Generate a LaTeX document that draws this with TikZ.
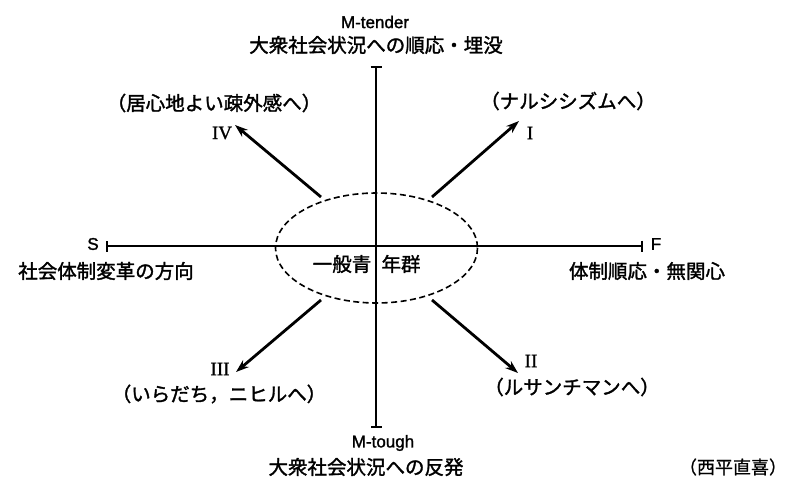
\documentclass[tikz,border=0pt]{standalone}
\usepackage{fontspec}
\setmainfont{Liberation Serif}
\newfontfamily\jp[FakeBold=1.6]{Noto Sans CJK JP}
\newfontfamily\jpa[FakeBold=0.8]{Noto Sans CJK JP}
\newfontfamily\lsans[FakeBold=1.5]{Liberation Sans}
\newfontfamily\rserif[FakeBold=1.2]{Liberation Serif}
\usetikzlibrary{arrows.meta}
\begin{document}
\begin{tikzpicture}[x=1pt,y=-1pt,
 jtext/.style={font=\jp\fontsize{19.5}{22}\selectfont, inner sep=0pt, anchor=center},
 ltext/.style={font=\lsans\fontsize{17}{19}\selectfont, inner sep=0pt},
 rom/.style={font=\rserif\fontsize{19}{20}\selectfont, inner sep=0pt},
 axisline/.style={line width=1.8pt, {Bar[width=11pt,line width=1.8pt]}-{Bar[width=11pt,line width=1.8pt]}},
 dirarrow/.style={line width=2.8pt, -{Stealth[length=13pt,width=9pt]}},
 grpline/.style={dash pattern=on 6pt off 3.5pt, line width=1.6pt},
]
\useasboundingbox (0,0) rectangle (787,479);
% axes
\coordinate (top) at (376,66);
\coordinate (bot) at (376,428);
\coordinate (left) at (106,246);
\coordinate (right) at (643,246);
\draw[axisline] (top) -- (bot);
\draw[axisline] (left) -- (right);
% central group
\draw[grpline] (376.5,248) ellipse [x radius=101, y radius=55];
% arrows
\coordinate (s1) at (432,197); \coordinate (t1) at (519,121);
\coordinate (s4) at (321,197); \coordinate (t4) at (235,125);
\coordinate (s3) at (321,300); \coordinate (t3) at (236,372);
\coordinate (s2) at (432,300); \coordinate (t2) at (518,373);
\draw[dirarrow] (s1) -- (t1);
\draw[dirarrow] (s4) -- (t4);
\draw[dirarrow] (s3) -- (t3);
\draw[dirarrow] (s2) -- (t2);
% labels
\node[ltext] (mtender) at (375,22) {M-tender};
\node[jtext] (tender) at (376,45) {大衆社会状況への順応・埋没};
\node[ltext] (mtough) at (383,443) {M-tough};
\node[jtext] (tough) at (366,467) {大衆社会状況への反発};
\node[ltext] (S) at (93,244) {S};
\node[ltext] (F) at (656,244) {F};
\node[jtext] (sj) at (106,271) {社会体制変革の方向};
\node[jtext] (fj) at (647,271) {体制順応・無関心};
\node[jtext] (g1) at (342,264) {一般青};
\node[jtext] (g2) at (401,264) {年群};
\node[rom] (r4) at (222,133) {IV};
\node[jtext] (l4) at (214,103) {（居心地よい疎外感へ）};
\node[rom] (r1) at (530,133) {I};
\node[jtext] (l1) at (568,101) {（ナルシシズムへ）};
\node[rom] (r3) at (220,369) {III};
\node[jtext] (l3) at (219,394) {（いらだち，ニヒルへ）};
\node[rom] (r2) at (531,361) {II};
\node[jtext] (l2) at (572,387) {（ルサンチマンへ）};
\node[font=\jpa\fontsize{18}{20}\selectfont, inner sep=0pt] (author) at (733,467) {（西平直喜）};
\end{tikzpicture}
\end{document}
